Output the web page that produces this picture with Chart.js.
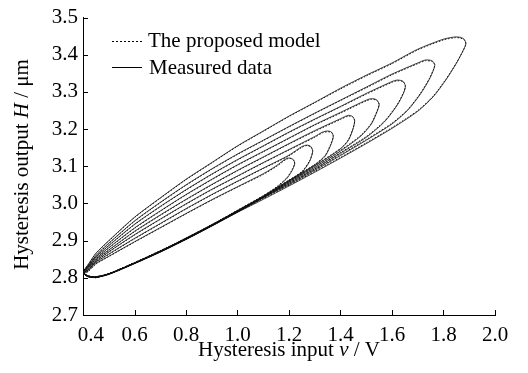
<!DOCTYPE html>
<html><head><meta charset="utf-8">
<script src="https://cdn.jsdelivr.net/npm/chart.js@4.4.0/dist/chart.umd.min.js"></script>
<style>html,body{margin:0;padding:0;background:#fff;}canvas{display:block;}</style>
</head><body>
<canvas id="c" width="528" height="373"></canvas>
<script>
// ---- tick labels ----
const xTickValues = [0.4, 0.6, 0.8, 1.0, 1.2, 1.4, 1.6, 1.8, 2.0];
const xTickLabels = ['\u2002 0.4','0.6','0.8','1.0','1.2','1.4','1.6','1.8','2.0'];
const yTickValues = [2.7, 2.8, 2.9, 3.0, 3.1, 3.2, 3.3, 3.4, 3.5];
const yTickLabels = ['2.7','2.8','2.9','3.0','3.1','3.2','3.3','3.4','3.5'];
const legendLabels = ['The proposed model', 'Measured data'];
const xTitle = [['Hysteresis input ', false], ['v', true], [' / V', false]];
const yTitle = [['Hysteresis output ', false], ['H', true], [' / \u03bcm', false]];

// ---- loop 1 ----
const v1 = [0.40,0.42,0.45,0.50,0.60,0.70,0.80,0.90,1.00,1.10,1.15,1.19,1.21,1.222,1.218,1.205,1.19,1.15,1.10,1.00,0.90,0.80,0.70,0.60,0.50,0.45,0.42,0.40];
const meas1 = [2.812,2.805,2.803,2.811,2.840,2.872,2.907,2.943,2.981,3.020,3.042,3.066,3.086,3.106,3.117,3.122,3.121,3.101,3.080,3.045,3.010,2.973,2.935,2.897,2.858,2.838,2.818,2.810];
const model1 = [2.813,2.804,2.802,2.810,2.841,2.873,2.906,2.942,2.982,3.021,3.044,3.068,3.088,3.107,3.116,3.121,3.119,3.099,3.078,3.044,3.009,2.972,2.934,2.896,2.857,2.837,2.817,2.811];
// ---- loop 2 ----
const v2 = [0.40,0.42,0.45,0.50,0.60,0.70,0.80,0.90,1.00,1.10,1.20,1.25,1.28,1.292,1.285,1.27,1.25,1.20,1.10,1.00,0.90,0.80,0.70,0.60,0.50,0.45,0.42,0.40];
const meas2 = [2.812,2.804,2.803,2.811,2.840,2.872,2.906,2.942,2.980,3.019,3.062,3.084,3.113,3.140,3.153,3.157,3.153,3.130,3.095,3.060,3.024,2.986,2.946,2.906,2.864,2.842,2.821,2.811];
const model2 = [2.813,2.805,2.802,2.810,2.839,2.871,2.907,2.943,2.981,3.020,3.063,3.086,3.115,3.141,3.152,3.156,3.151,3.128,3.094,3.059,3.023,2.985,2.945,2.905,2.863,2.841,2.820,2.812];
// ---- loop 3 ----
const v3 = [0.40,0.42,0.45,0.50,0.60,0.70,0.80,0.90,1.00,1.10,1.20,1.30,1.34,1.362,1.372,1.365,1.35,1.33,1.30,1.20,1.10,1.00,0.90,0.80,0.70,0.60,0.50,0.45,0.42,0.40];
const meas3 = [2.812,2.804,2.802,2.810,2.840,2.872,2.906,2.942,2.980,3.018,3.061,3.104,3.127,3.157,3.180,3.192,3.195,3.192,3.180,3.145,3.110,3.074,3.038,2.999,2.958,2.916,2.870,2.845,2.823,2.812];
const model3 = [2.811,2.805,2.803,2.811,2.841,2.871,2.905,2.941,2.979,3.019,3.062,3.105,3.129,3.159,3.181,3.191,3.193,3.190,3.178,3.144,3.109,3.073,3.037,2.998,2.957,2.915,2.869,2.844,2.822,2.813];
// ---- loop 4 ----
const v4 = [0.40,0.42,0.45,0.50,0.60,0.70,0.80,0.90,1.00,1.10,1.20,1.30,1.40,1.43,1.448,1.455,1.447,1.43,1.40,1.30,1.20,1.10,1.00,0.90,0.80,0.70,0.60,0.50,0.45,0.42,0.40];
const meas4 = [2.812,2.804,2.802,2.810,2.839,2.871,2.905,2.941,2.979,3.017,3.059,3.101,3.147,3.169,3.199,3.222,3.234,3.237,3.228,3.196,3.161,3.125,3.089,3.051,3.011,2.969,2.925,2.875,2.849,2.826,2.813];
const model4 = [2.813,2.805,2.801,2.811,2.840,2.872,2.904,2.942,2.980,3.018,3.060,3.103,3.148,3.171,3.201,3.223,3.233,3.235,3.226,3.194,3.160,3.124,3.088,3.050,3.010,2.968,2.924,2.874,2.848,2.825,2.814];
// ---- loop 5 ----
const v5 = [0.40,0.42,0.45,0.50,0.60,0.70,0.80,0.90,1.00,1.10,1.20,1.30,1.40,1.48,1.52,1.542,1.55,1.54,1.52,1.50,1.40,1.30,1.20,1.10,1.00,0.90,0.80,0.70,0.60,0.50,0.45,0.42,0.40];
const meas5 = [2.812,2.804,2.802,2.810,2.839,2.870,2.904,2.940,2.978,3.016,3.057,3.097,3.141,3.182,3.214,3.247,3.266,3.279,3.282,3.278,3.245,3.212,3.176,3.140,3.104,3.065,3.024,2.980,2.934,2.881,2.852,2.829,2.814];
const model5 = [2.813,2.805,2.801,2.811,2.840,2.871,2.905,2.941,2.979,3.017,3.058,3.099,3.143,3.184,3.216,3.249,3.267,3.278,3.280,3.276,3.243,3.211,3.175,3.139,3.103,3.064,3.023,2.979,2.933,2.880,2.851,2.828,2.815];
// ---- loop 6 ----
const v6 = [0.40,0.42,0.45,0.50,0.60,0.70,0.80,0.90,1.00,1.10,1.20,1.30,1.40,1.50,1.57,1.62,1.645,1.652,1.642,1.62,1.60,1.50,1.40,1.30,1.20,1.10,1.00,0.90,0.80,0.70,0.60,0.50,0.45,0.42,0.40];
const meas6 = [2.812,2.803,2.802,2.810,2.839,2.870,2.904,2.940,2.978,3.016,3.054,3.093,3.135,3.178,3.219,3.264,3.297,3.316,3.329,3.332,3.328,3.296,3.261,3.227,3.192,3.155,3.118,3.079,3.037,2.992,2.944,2.887,2.856,2.831,2.815];
const model6 = [2.813,2.804,2.801,2.811,2.840,2.871,2.905,2.941,2.979,3.017,3.055,3.094,3.137,3.180,3.221,3.266,3.299,3.317,3.328,3.330,3.326,3.294,3.260,3.226,3.191,3.154,3.117,3.078,3.036,2.991,2.943,2.886,2.855,2.830,2.816];
// ---- loop 7 ----
const v7 = [0.40,0.42,0.45,0.50,0.60,0.70,0.80,0.90,1.00,1.10,1.20,1.30,1.40,1.50,1.60,1.66,1.71,1.745,1.762,1.766,1.755,1.73,1.70,1.60,1.50,1.40,1.30,1.20,1.10,1.00,0.90,0.80,0.70,0.60,0.50,0.45,0.42,0.40];
const meas7 = [2.812,2.803,2.802,2.810,2.839,2.870,2.904,2.940,2.977,3.015,3.051,3.089,3.129,3.170,3.214,3.250,3.294,3.334,3.361,3.374,3.384,3.386,3.378,3.348,3.313,3.278,3.243,3.207,3.170,3.133,3.093,3.050,3.003,2.953,2.893,2.860,2.833,2.816];
const model7 = [2.813,2.804,2.801,2.811,2.840,2.871,2.905,2.941,2.978,3.017,3.052,3.091,3.131,3.172,3.216,3.252,3.296,3.336,3.362,3.373,3.382,3.384,3.376,3.346,3.311,3.277,3.242,3.206,3.169,3.132,3.092,3.049,3.002,2.952,2.892,2.859,2.832,2.817];
// ---- loop 8 ----
const v8 = [0.40,0.42,0.45,0.50,0.60,0.70,0.80,0.90,1.00,1.10,1.20,1.30,1.40,1.50,1.60,1.70,1.76,1.81,1.85,1.876,1.887,1.880,1.865,1.845,1.80,1.70,1.60,1.50,1.40,1.30,1.20,1.10,1.00,0.90,0.80,0.70,0.60,0.50,0.45,0.42,0.40];
const meas8 = [2.812,2.803,2.801,2.809,2.838,2.869,2.903,2.939,2.976,3.011,3.047,3.084,3.122,3.161,3.202,3.248,3.287,3.333,3.377,3.411,3.430,3.442,3.447,3.448,3.442,3.415,3.378,3.345,3.310,3.272,3.235,3.195,3.155,3.110,3.065,3.015,2.963,2.900,2.866,2.836,2.817];
const model8 = [2.813,2.804,2.800,2.810,2.839,2.870,2.904,2.940,2.977,3.013,3.049,3.086,3.124,3.163,3.204,3.250,3.289,3.335,3.378,3.411,3.429,3.440,3.445,3.446,3.440,3.413,3.376,3.343,3.308,3.271,3.234,3.194,3.154,3.109,3.064,3.014,2.962,2.899,2.865,2.835,2.818];

const loops = [[v1,meas1,model1],[v2,meas2,model2],[v3,meas3,model3],[v4,meas4,model4],
               [v5,meas5,model5],[v6,meas6,model6],[v7,meas7,model7],[v8,meas8,model8]];

const FONT = '"Liberation Serif", "Times New Roman", serif';
const datasets = [];
loops.forEach(([v, m, p]) => {
  datasets.push({ label: legendLabels[1], data: v.map((x, i) => ({x, y: m[i]})), showLine: true,
    borderColor: 'rgba(20,20,20,0.9)', borderWidth: 0.9, pointRadius: 0, tension: 0.25, fill: false });
  datasets.push({ label: legendLabels[0], data: v.map((x, i) => ({x, y: p[i]})), showLine: true,
    borderColor: '#000', borderWidth: 0.9, borderDash: [1.6, 1.6], pointRadius: 0, tension: 0.25, fill: false });
});

function mixed(ctx, parts, x, y, size) {
  let total = 0;
  parts.forEach(p => { ctx.font = (p[1] ? 'italic ' : '') + size + 'px ' + FONT; total += ctx.measureText(p[0]).width; });
  let cx = x - total / 2;
  parts.forEach(p => { ctx.font = (p[1] ? 'italic ' : '') + size + 'px ' + FONT; ctx.fillText(p[0], cx, y); cx += ctx.measureText(p[0]).width; });
}

const annot = {
  id: 'annot',
  afterDraw(chart) {
    const ctx = chart.ctx;
    const xs = chart.scales.x, ys = chart.scales.y;
    const ca = chart.chartArea;
    ctx.save();
    ctx.fillStyle = '#000'; ctx.strokeStyle = '#000';
    // inward tick marks from the library scales
    ctx.lineWidth = 1;
    ctx.beginPath();
    xTickValues.forEach(v => { const px = Math.round(xs.getPixelForValue(v)) + 0.5; ctx.moveTo(px, ca.bottom); ctx.lineTo(px, ca.bottom - 5); });
    yTickValues.forEach(v => { const py = Math.round(ys.getPixelForValue(v)) + 0.5; ctx.moveTo(ca.left, py); ctx.lineTo(ca.left + 5, py); });
    ctx.stroke();
    ctx.textAlign = 'left'; ctx.textBaseline = 'alphabetic';
    mixed(ctx, xTitle, 289, 356, 21);
    ctx.save(); ctx.translate(28, 164.5); ctx.rotate(-Math.PI / 2); mixed(ctx, yTitle, 0, 0, 21); ctx.restore();
    // legend
    ctx.setLineDash([2, 2]);
    ctx.beginPath(); ctx.moveTo(112, 41.5); ctx.lineTo(142, 41.5); ctx.stroke();
    ctx.setLineDash([]);
    ctx.beginPath(); ctx.moveTo(112, 67.5); ctx.lineTo(142, 67.5); ctx.stroke();
    ctx.font = '21px ' + FONT;
    ctx.fillText(legendLabels[0], 148, 47);
    ctx.fillText(legendLabels[1], 149, 74);
    ctx.restore();
  }
};

const axisCommon = {
  grid: { display: false, drawOnChartArea: false, drawTicks: false },
  border: { display: true, color: '#000', width: 1 },
};

new Chart(document.getElementById('c'), {
  type: 'scatter',
  data: { datasets },
  options: {
    responsive: false, animation: false, devicePixelRatio: 1,
    layout: { padding: { top: 13, right: 33, left: 0, bottom: 0 } },
    plugins: { legend: { display: false }, tooltip: { enabled: false } },
    scales: {
      x: Object.assign({}, axisCommon, {
        type: 'linear', min: 0.4, max: 2.0,
        afterBuildTicks: s => { s.ticks = xTickValues.map(v => ({ value: v })); },
        afterFit: s => { s.height = 58; },
        ticks: { color: '#000', padding: 8, maxRotation: 0, autoSkip: false,
          font: { family: FONT, size: 21 },
          callback: (val, i) => xTickLabels[i] }
      }),
      y: Object.assign({}, axisCommon, {
        type: 'linear', min: 2.7, max: 3.5,
        afterBuildTicks: s => { s.ticks = yTickValues.map(v => ({ value: v })); },
        afterFit: s => { s.width = 83; },
        ticks: { color: '#000', padding: 5, autoSkip: false,
          font: { family: FONT, size: 21 },
          callback: (val, i) => yTickLabels[i] }
      })
    }
  },
  plugins: [annot]
});
</script>
</body></html>
